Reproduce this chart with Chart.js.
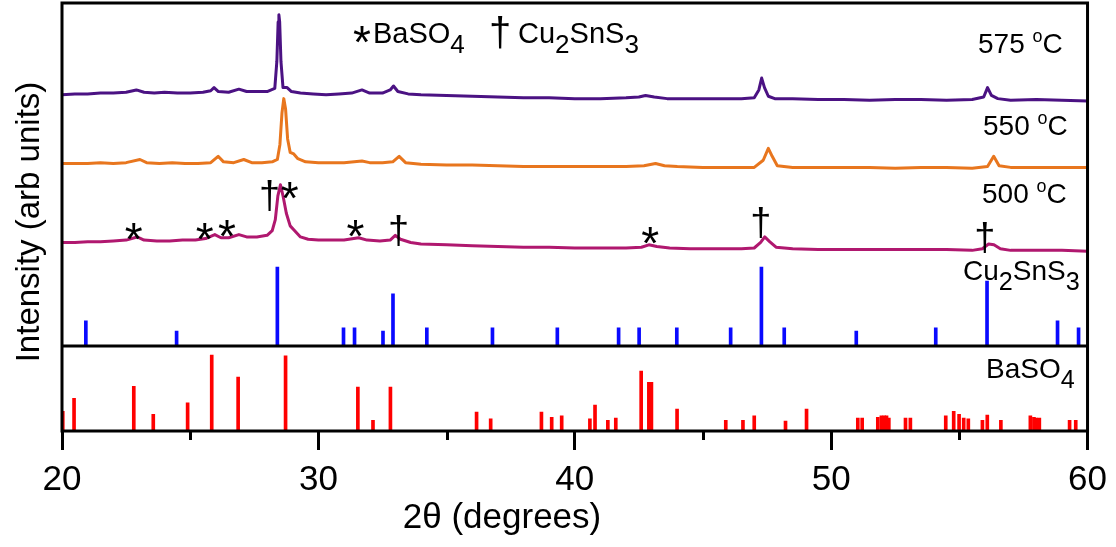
<!DOCTYPE html>
<html>
<head>
<meta charset="utf-8">
<title>XRD</title>
<script src="https://cdn.jsdelivr.net/npm/chart.js@4.4.1/dist/chart.umd.min.js"></script>
<style>
  html, body { margin: 0; padding: 0; background: #fff; }
</style>
</head>
<body>
<canvas id="xrd" width="1116" height="547"></canvas>
<script>
// measured patterns, [2theta, intensity] (arb units, offset for stacking)
const trace575 = [[20.0,318],[20.5,319],[21.0,319],[21.5,320],[22.0,320],[22.5,321],[22.9,324],[23.2,321],[23.6,320],[24.0,321],[24.5,320],[25.0,320],[25.5,321],[25.8,323],[25.93,327],[26.1,322],[26.5,321],[26.9,325],[27.2,322],[27.6,322],[28.0,322],[28.3,326],[28.38,360],[28.43,410],[28.46,419],[28.49,410],[28.54,360],[28.62,327],[28.78,327],[28.95,322],[29.3,320],[29.8,319],[30.3,318],[30.8,319],[31.3,320],[31.7,324],[32.0,320],[32.5,320],[32.8,324],[32.93,329],[33.1,322],[33.5,319],[34.0,318],[35.0,317],[36.0,316],[37.0,315],[38.0,314],[39.0,314],[40.0,313],[41.0,313],[42.0,314],[42.5,315],[42.76,317],[43.1,315],[43.6,313],[44.5,313],[45.5,313],[46.5,313],[47.0,314],[47.18,324],[47.29,339],[47.4,327],[47.55,316],[47.8,313],[48.5,313],[49.5,312],[50.5,312],[51.5,311],[52.5,312],[53.5,312],[54.5,311],[55.5,312],[55.95,315],[56.1,327],[56.25,317],[56.5,313],[57.0,311],[58.0,312],[59.0,311],[60.0,310]];

const trace550 = [[20.0,231],[20.5,231],[21.0,231],[21.5,232],[22.0,231],[22.5,232],[23.04,236],[23.3,232],[23.8,231],[24.3,232],[24.8,231],[25.3,231],[25.8,232],[26.09,240],[26.3,233],[26.7,232],[27.09,236],[27.4,232],[27.8,232],[28.2,233],[28.4,236],[28.5,255],[28.58,295],[28.65,313],[28.72,300],[28.8,262],[28.9,245],[29.04,243],[29.2,237],[29.5,233],[30.0,232],[30.5,232],[31.0,232],[31.7,234],[32.0,232],[32.5,232],[32.9,233],[33.15,240],[33.4,232],[34.0,230],[35.0,229],[36.0,229],[37.0,228],[38.0,227],[39.0,227],[40.0,227],[41.0,227],[42.0,227],[42.7,228],[43.15,231],[43.5,228],[44.0,227],[45.0,226],[46.0,226],[47.0,226],[47.35,235],[47.55,250],[47.7,240],[47.9,228],[48.5,226],[49.5,226],[50.5,226],[51.5,226],[52.5,225],[53.5,226],[54.5,226],[55.5,225],[56.1,227],[56.34,240],[56.55,228],[57.0,226],[58.0,226],[59.0,226],[60.0,226]];

const trace500 = [[20.0,131],[20.5,131],[21.0,132],[21.5,132],[22.0,133],[22.5,134],[22.93,138],[23.2,134],[23.7,133],[24.2,133],[24.7,134],[25.2,134],[25.6,136],[25.96,141],[26.2,137],[26.5,137],[26.9,141],[27.2,138],[27.6,138],[28.0,140],[28.2,146],[28.32,160],[28.42,190],[28.52,204],[28.62,190],[28.75,168],[28.9,152],[29.04,147],[29.3,138],[29.6,135],[30.0,134],[30.5,134],[31.0,134],[31.57,137],[31.9,134],[32.4,133],[32.8,134],[33.0,140],[33.2,135],[33.6,131],[34.0,129],[35.0,128],[36.0,127],[37.0,126],[38.0,125],[39.0,125],[40.0,124],[41.0,124],[42.0,124],[42.6,125],[42.89,128],[43.2,126],[43.7,124],[44.5,123],[45.5,123],[46.5,123],[47.0,124],[47.25,131],[47.41,138],[47.6,132],[47.85,125],[48.5,123],[49.5,122],[50.5,122],[51.5,122],[52.5,122],[53.5,122],[54.5,122],[55.5,121],[55.9,123],[56.14,129],[56.35,128],[56.6,123],[57.0,121],[58.0,121],[59.0,121],[60.0,120]];

// reference patterns, relative intensity
const cu2sns3Pos = [20.93,24.47,28.40,30.98,31.41,32.52,32.91,34.23,36.79,39.32,41.71,42.51,43.98,46.08,47.28,48.17,50.98,54.08,56.08,58.83,59.65];
const cu2sns3Int = [32,19,100,23,23,19,66,23,23,23,23,23,23,23,100,23,19,23,82,32,23];

const baso4Pos = [20.03,20.47,22.80,23.56,24.90,25.84,26.87,28.72,31.54,32.13,32.81,36.17,36.72,38.70,39.10,39.49,40.59,40.79,41.29,41.60,42.59,42.89,42.99,43.99,45.89,46.56,47.00,48.22,49.04,51.04,51.21,51.82,51.96,52.07,52.16,52.25,52.90,53.09,54.47,54.78,54.99,55.17,55.35,55.90,56.09,56.62,57.77,57.91,58.00,58.12,59.30,59.54];
const baso4Int = [26,43,59,22,37,100,71,99,58,14,58,25,16,25,18,20,16,34,14,17,79,64,64,29,14,14,20,13,29,17,17,18,20,20,20,17,17,17,20,26,22,17,16,14,21,14,20,18,17,17,14,14];

const xTicks = [20, 30, 40, 50, 60];
const xMinor = [25, 35, 45, 55];

const FONT = '"Liberation Sans", Arial, sans-serif';
Chart.defaults.font.family = FONT;
Chart.defaults.color = '#000';

const pts = arr => arr.map(p => ({ x: p[0], y: p[1] }));
const sticks = (pos, ints) => pos.map((p, i) => ({ x: p, y: ints[i] }));

// draws text with _sub and ^sup pieces
function richText(ctx, parts, x, y, size, align) {
  const pcs = parts.map(p => {
    if (p[0] === '_') return { t: p.slice(1), s: size * 0.9, dy: size * 0.36 };
    if (p[0] === '^') return { t: p.slice(1), s: size * 0.64, dy: -size * 0.4 };
    return { t: p, s: size, dy: 0 };
  });
  let w = 0;
  pcs.forEach(pc => { ctx.font = pc.s + 'px ' + FONT; pc.w = ctx.measureText(pc.t).width; w += pc.w; });
  let cx = align === 'right' ? x - w : x;
  ctx.textAlign = 'left';
  ctx.textBaseline = 'alphabetic';
  pcs.forEach(pc => { ctx.font = pc.s + 'px ' + FONT; ctx.fillText(pc.t, cx, y + pc.dy); cx += pc.w; });
}

function star(ctx, x, y) {
  ctx.font = '46px ' + FONT;
  ctx.textAlign = 'center';
  ctx.textBaseline = 'alphabetic';
  ctx.fillText('*', x, y + 27);
}
function dagger(ctx, x, y, size) {
  ctx.font = size + 'px ' + FONT;
  ctx.textAlign = 'center';
  ctx.textBaseline = 'alphabetic';
  ctx.fillText('\u2020', x, y + size * 0.27);
}

// phase markers on the 500 C pattern: symbol, 2theta, height
const marks = [['*',22.80,149],['*',25.57,149],['*',26.43,153],['d',28.10,187],['*',28.88,201],['*',31.45,153],['d',33.13,143],['*',42.94,144],['d',47.26,153],['d',55.99,134]];

const framePlugin = {
  id: 'frame',
  afterDraw(chart) {
    const { ctx, chartArea: a, scales } = chart;
    ctx.save();
    ctx.strokeStyle = '#000';
    ctx.lineWidth = 3;
    ctx.strokeRect(a.left, a.top, a.right - a.left, a.bottom - a.top);
    const yd = scales.y.bottom;
    ctx.beginPath();
    ctx.moveTo(a.left, yd);
    ctx.lineTo(a.right, yd);
    xMinor.forEach(v => {
      const px = Math.round(scales.x.getPixelForValue(v)) + 0.5;
      ctx.moveTo(px, a.bottom);
      ctx.lineTo(px, a.bottom + 9);
    });
    ctx.stroke();

    ctx.fillStyle = '#000';
    marks.forEach(m => {
      const px = scales.x.getPixelForValue(m[1]);
      const py = scales.y.getPixelForValue(m[2]);
      if (m[0] === '*') star(ctx, px, py); else dagger(ctx, px, py, 38);
    });

    // legend line at the top
    star(ctx, a.left + 300, a.top + 28);
    richText(ctx, ['BaSO', '_4'], a.left + 311, a.top + 40, 29);
    dagger(ctx, a.left + 438, a.top + 32, 40);
    richText(ctx, ['Cu', '_2', 'SnS', '_3'], a.left + 456, a.top + 40, 29);

    // pattern labels
    richText(ctx, ['575 ', '^o', 'C'], a.left + 916, a.top + 50, 28);
    richText(ctx, ['550 ', '^o', 'C'], a.left + 921, a.top + 132, 28);
    richText(ctx, ['500 ', '^o', 'C'], a.left + 920, a.top + 200, 28);
    richText(ctx, ['Cu', '_2', 'SnS', '_3'], a.left + 901, yd - 66, 28);
    richText(ctx, ['BaSO', '_4'], a.left + 924, yd + 32, 28);

    // axis titles
    ctx.font = '35px ' + FONT;
    ctx.textAlign = 'center';
    ctx.textBaseline = 'middle';
    ctx.fillText('2\u03b8 (degrees)', a.left + 440, a.bottom + 87);
    ctx.translate(30, (a.top + a.bottom) / 2 + 5);
    ctx.rotate(-Math.PI / 2);
    ctx.font = '33px ' + FONT;
    ctx.fillText('Intensity (arb units)', 0, 0);
    ctx.restore();
  }
};

const hidden = { display: false };
const traceStyle = { borderWidth: 3, pointRadius: 0, borderJoinStyle: 'round', yAxisID: 'y' };

new Chart(document.getElementById('xrd'), {
  type: 'line',
  data: {
    datasets: [
      { label: '575 C', data: pts(trace575), borderColor: '#4b1283', ...traceStyle },
      { label: '550 C', data: pts(trace550), borderColor: '#e8761e', ...traceStyle },
      { label: '500 C', data: pts(trace500), borderColor: '#b0186f', ...traceStyle },
      { type: 'bar', label: 'Cu2SnS3', data: sticks(cu2sns3Pos, cu2sns3Int), backgroundColor: '#0a0aff', barThickness: 3, grouped: false, yAxisID: 'y' },
      { type: 'bar', label: 'BaSO4', data: sticks(baso4Pos, baso4Int), backgroundColor: '#ff0000', barThickness: 3, grouped: false, yAxisID: 'y2' }
    ]
  },
  options: {
    responsive: false,
    animation: false,
    layout: { padding: { top: 3, right: 27, bottom: 0, left: 0 } },
    plugins: { legend: hidden, tooltip: { enabled: false } },
    elements: { line: { tension: 0 } },
    scales: {
      x: {
        type: 'linear', min: 20, max: 60, offset: false,
        afterFit: s => { s.height = 116; },
        ticks: {
          stepSize: 5, autoSkip: false, maxRotation: 0, padding: 9,
          font: { size: 35 },
          callback: v => xTicks.includes(v) ? String(v) : ''
        },
        grid: {
          offset: false, drawOnChartArea: false, tickLength: 19, tickWidth: 3,
          tickColor: c => (c.tick && xTicks.includes(c.tick.value)) ? '#000' : 'rgba(0,0,0,0)'
        },
        border: hidden
      },
      y: {
        stack: 'xrd', stackWeight: 343, weight: 2, min: 0, max: 434,
        afterFit: s => { s.width = 62; },
        ticks: hidden, grid: hidden, border: hidden
      },
      y2: {
        stack: 'xrd', stackWeight: 85, weight: 1, min: 0, max: 112, position: 'left',
        afterFit: s => { s.width = 62; },
        ticks: hidden, grid: hidden, border: hidden
      }
    }
  },
  plugins: [framePlugin]
});
</script>
</body>
</html>
